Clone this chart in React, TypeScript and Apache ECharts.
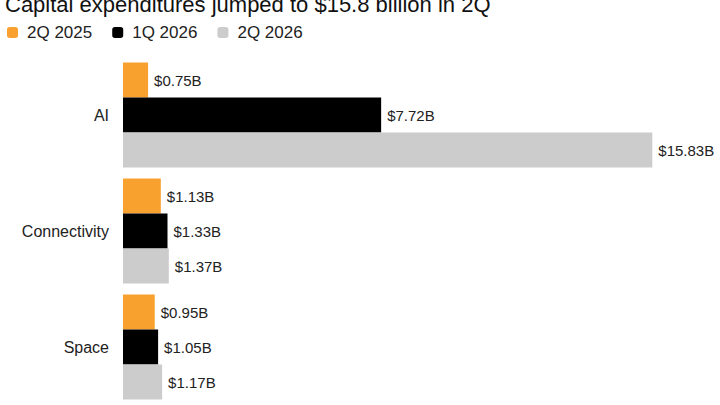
import { useEffect, useRef } from 'react';
import * as echarts from 'echarts';

const categories = ['AI', 'Connectivity', 'Space'];
const seriesNames = ['2Q 2025', '1Q 2026', '2Q 2026'];
const q2_2025 = [0.75, 1.13, 0.95];
const q1_2026 = [7.72, 1.33, 1.05];
const q2_2026 = [15.83, 1.37, 1.17];
const colors = ['#F9A12E', '#000000', '#CCCCCC'];

const FONT = '"Liberation Sans", Arial, sans-serif';

const App = () => {
    const chartRef = useRef(null);

    useEffect(() => {
        if (!chartRef.current) return;
        const myChart = echarts.init(chartRef.current, null, { renderer: 'svg' });

        const values = [q2_2025, q1_2026, q2_2026];

        const option = {
            animation: false,
            textStyle: { fontFamily: FONT },
            graphic: [
                {
                    type: 'text',
                    left: 5,
                    top: -7,
                    style: {
                        text: 'Capital expenditures jumped to $15.8 billion in 2Q',
                        font: `22px ${FONT}`,
                        fill: '#111111'
                    }
                }
            ],
            legend: {
                left: 7,
                top: 24,
                padding: 0,
                icon: 'roundRect',
                itemWidth: 11,
                itemHeight: 11,
                itemGap: 20,
                data: seriesNames,
                textStyle: { fontSize: 17, color: '#222222', fontFamily: FONT, padding: [0, 0, 0, 4] }
            },
            grid: { left: 123, right: 62, top: 57, bottom: -2 },
            xAxis: {
                type: 'value',
                min: 0,
                max: 16,
                show: false
            },
            yAxis: {
                type: 'category',
                inverse: true,
                data: categories,
                axisLine: { show: false },
                axisTick: { show: false },
                axisLabel: {
                    fontSize: 16,
                    color: '#222222',
                    margin: 14,
                    fontFamily: FONT,
                    padding: [0, 0, 5, 0]
                }
            },
            series: seriesNames.map((name, i) => ({
                name,
                type: 'bar',
                data: values[i],
                barWidth: 35,
                barGap: '0%',
                itemStyle: { color: colors[i] },
                label: {
                    show: true,
                    position: 'right',
                    distance: 6,
                    fontSize: 15,
                    color: '#222222',
                    fontFamily: FONT,
                    formatter: (p: any) => `$${Number(p.value).toFixed(2)}B`
                }
            }))
        };

        myChart.setOption(option);

        return () => {
            myChart.dispose();
        };
    }, []);

    return (
        <div
            ref={chartRef}
            style={{ position: 'fixed', left: 0, top: 0, width: '720px', height: '405px', background: '#ffffff' }}
        />
    );
};

export default App;
